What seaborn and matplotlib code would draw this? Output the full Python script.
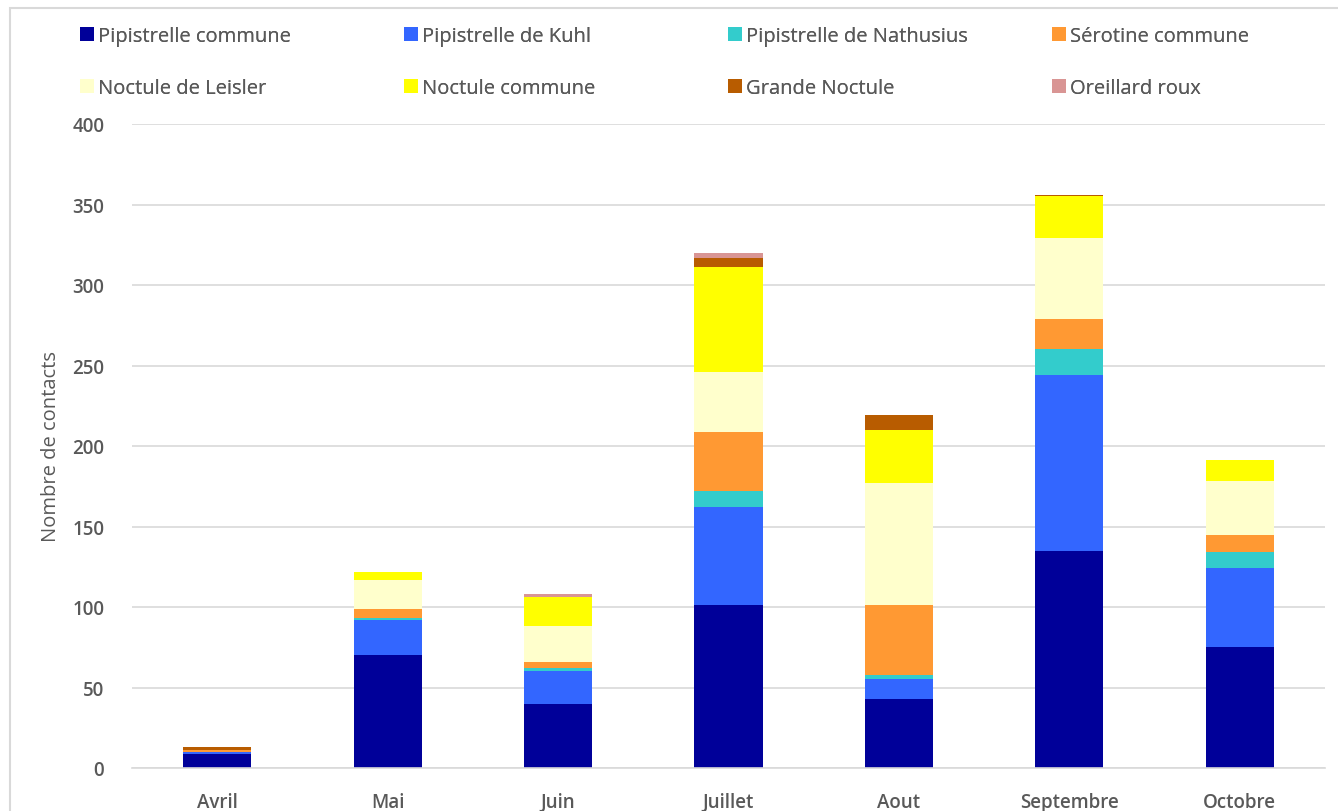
import matplotlib
matplotlib.use("Agg")
import matplotlib.pyplot as plt
import seaborn as sns
import numpy as np
import pandas as pd
from matplotlib.patches import Rectangle

months = ["Avril", "Mai", "Juin", "Juillet", "Aout", "Septembre", "Octobre"]
species = ["Pipistrelle commune", "Pipistrelle de Kuhl", "Pipistrelle de Nathusius",
           "Sérotine commune", "Noctule de Leisler", "Noctule commune",
           "Grande Noctule", "Oreillard roux"]
pip_commune = [9, 70, 40, 101, 43, 135, 75]
pip_kuhl = [1, 22, 20, 61, 12, 109, 49]
pip_nathusius = [0, 1, 2, 10, 3, 16, 10]
serotine = [1, 6, 4, 37, 43, 19, 11]
noct_leisler = [0, 18, 22, 37, 76, 50, 33]
noct_commune = [0, 5, 18, 65, 33, 26, 13]
grande_noct = [2, 0, 0, 6, 9, 1, 0]
oreillard = [0, 0, 2, 3, 0, 0, 0]
series = [pip_commune, pip_kuhl, pip_nathusius, serotine, noct_leisler,
          noct_commune, grande_noct, oreillard]
colors = ["#000099", "#3366FF", "#33CCCC", "#FF9933", "#FFFFCC", "#FFFF00",
          "#B85C00", "#D99594"]
yticks = [0, 50, 100, 150, 200, 250, 300, 350, 400]

sns.set_theme(style="white")
plt.rcParams["font.family"] = ["Open Sans", "DejaVu Sans"]
txt = "#595959"

fig = plt.figure(figsize=(13.38, 8.12), dpi=100)
ax = fig.add_axes([132 / 1338, 1 - 769 / 812, (1325 - 132) / 1338, (769 - 125) / 812])

bottom = np.zeros(len(months))
for name, vals, col in zip(species, series, colors):
    df = pd.DataFrame({"mois": months, "n": vals})
    sns.barplot(data=df, x="mois", y="n", color=col, width=0.4, bottom=bottom,
                label=name, ax=ax, saturation=1, edgecolor="none", linewidth=0)
    bottom = bottom + np.array(vals)

ax.set_ylim(0, 400)
ax.set_xlim(-0.5, len(months) - 0.5)
ax.set_yticks(yticks)
ax.yaxis.grid(True, color="#D9D9D9", linewidth=1.2)
ax.set_axisbelow(True)
for s in ["left", "right", "top"]:
    ax.spines[s].set_visible(False)
ax.spines["bottom"].set_color("#D9D9D9")
ax.spines["bottom"].set_linewidth(1.2)
ax.tick_params(axis="both", length=0, colors=txt, labelsize=13.5)
ax.tick_params(axis="y", pad=20)
ax.tick_params(axis="x", pad=17)
for lab in ax.get_xticklabels() + ax.get_yticklabels():
    lab.set_fontweight("semibold")
ax.set_xlabel("")
ax.set_ylabel("Nombre de contacts", color=txt, fontsize=14.5, labelpad=8)

handles, labels = ax.get_legend_handles_labels()
if ax.get_legend():
    ax.get_legend().remove()
col_x = [80, 404, 728, 1052]
for i in range(4):
    hs = [handles[i], handles[i + 4]]
    ls = [labels[i], labels[i + 4]]
    leg = fig.legend(hs, ls, loc="upper left",
                     bbox_to_anchor=(col_x[i] / 1338, 1 - 27 / 812),
                     frameon=False, fontsize=14.5, handlelength=0.7,
                     handleheight=0.7, handletextpad=0.2, labelspacing=1.6,
                     borderpad=0, borderaxespad=0)
    for t in leg.get_texts():
        t.set_color(txt)
        t.set_fontweight("medium")
    fig.add_artist(leg)

fig.patches.append(Rectangle((10 / 1338, -0.1), 1.2, 1.1 - 9 / 812,
                             transform=fig.transFigure, fill=False,
                             edgecolor="#D9D9D9", linewidth=1.5))

fig.savefig("out.png", dpi=100)
